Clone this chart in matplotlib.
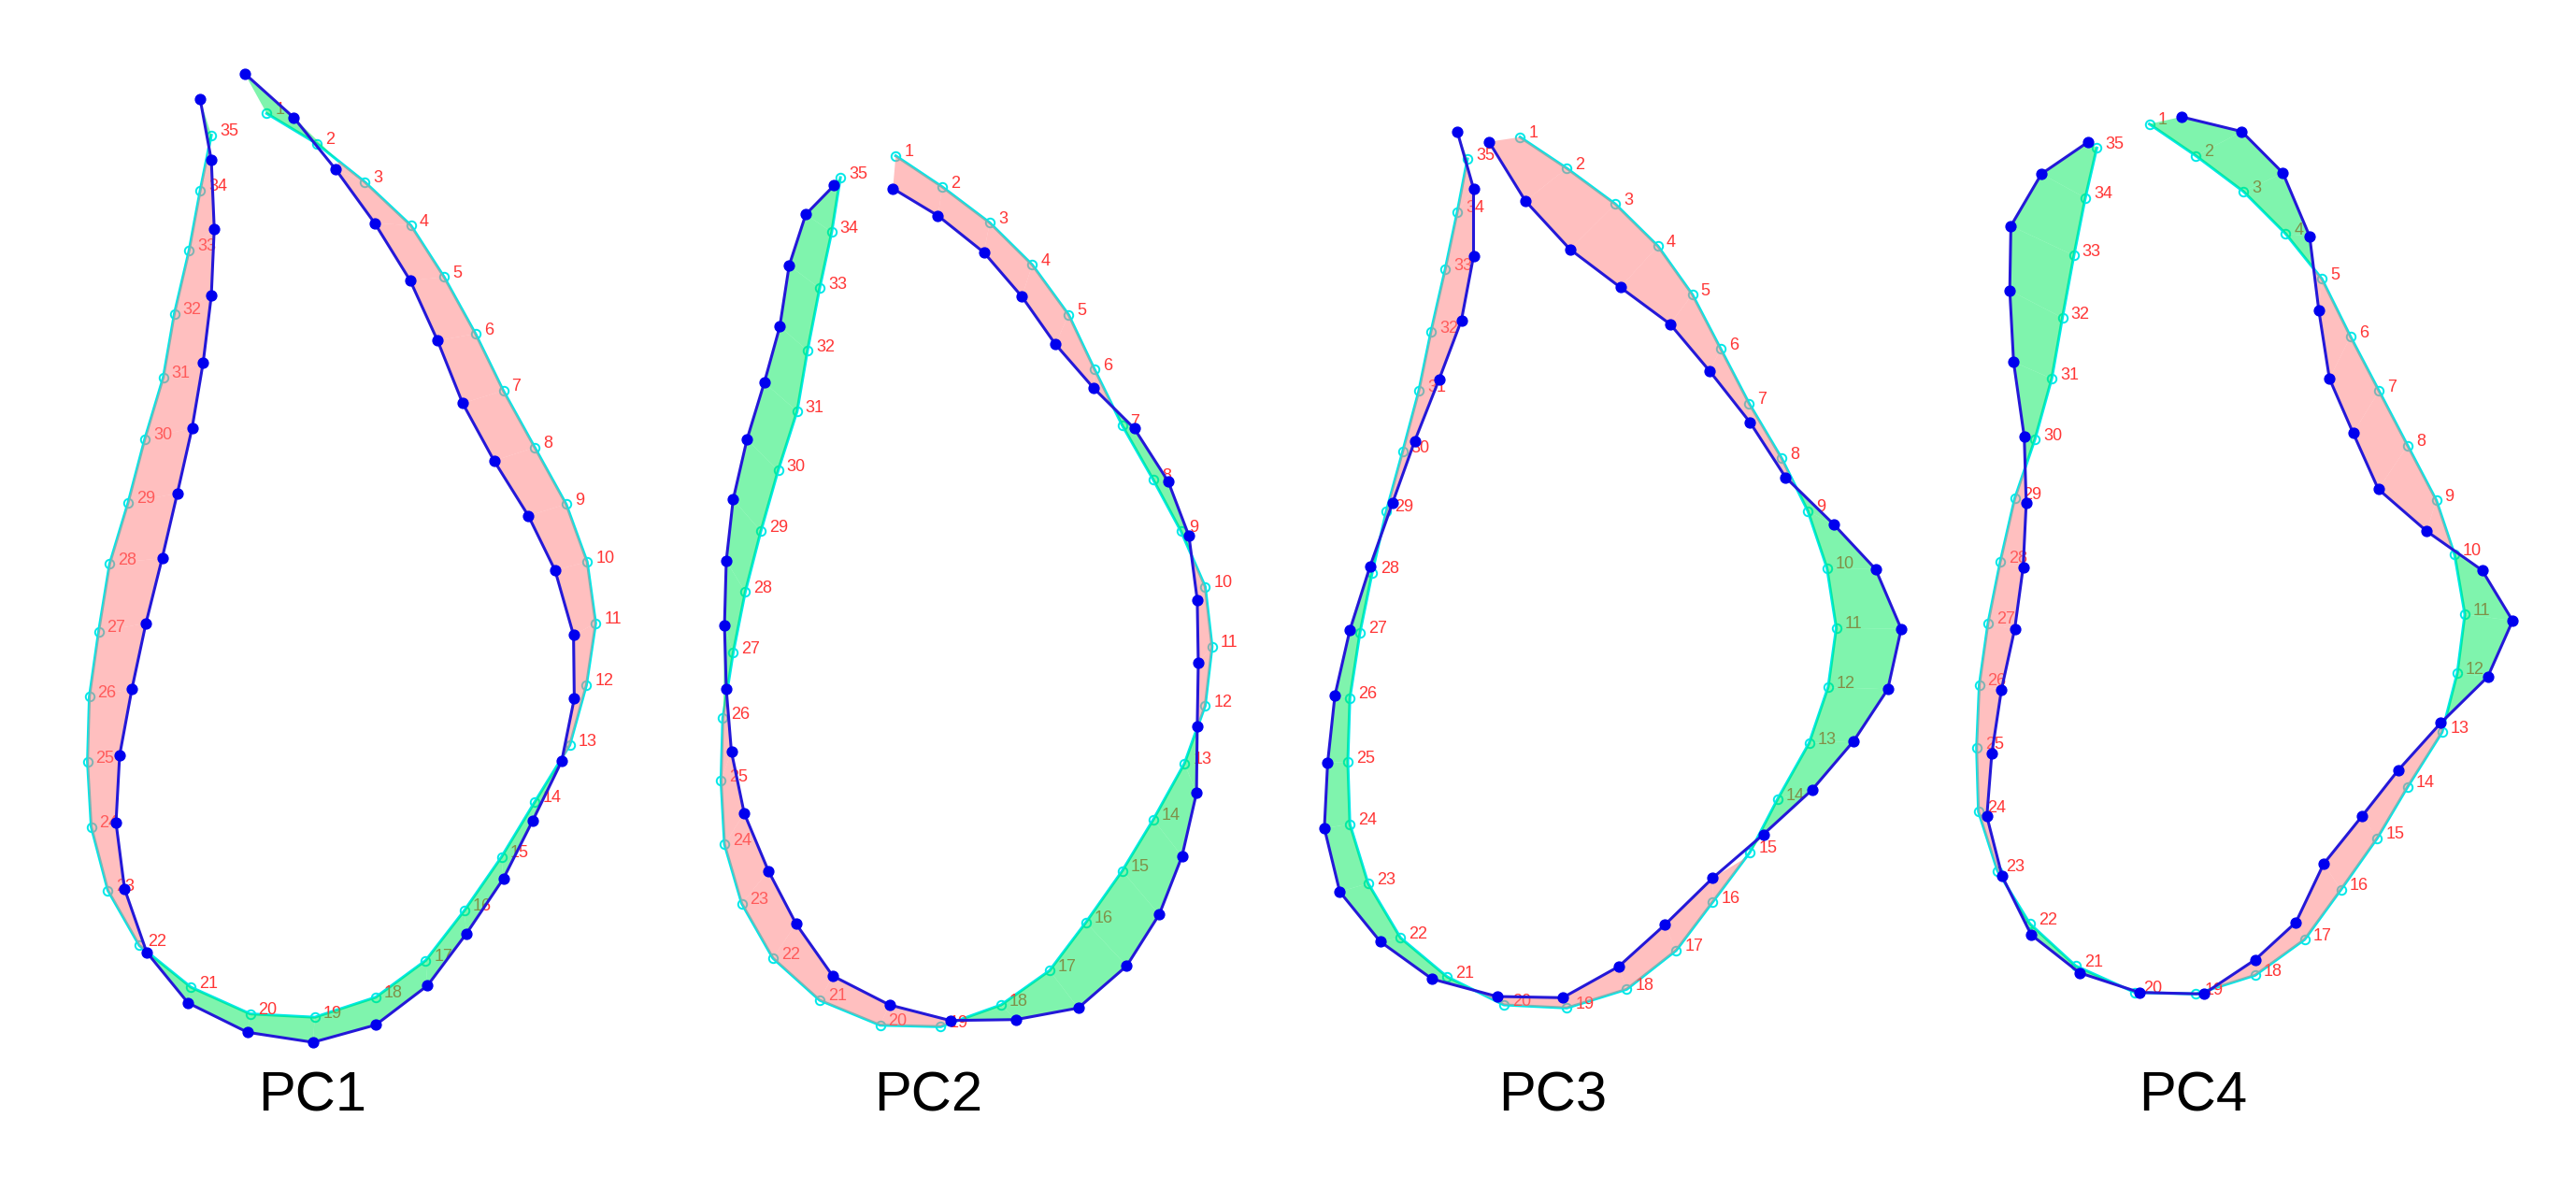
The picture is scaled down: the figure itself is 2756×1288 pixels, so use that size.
import numpy as np
import matplotlib
matplotlib.use("Agg")
import matplotlib.pyplot as plt
from matplotlib.patches import Polygon

# ---------------- data: landmark coordinates (image units, y downward) ----------------
titles = ["PC1", "PC2", "PC3", "PC4"]
title_x = [334, 993, 1661, 2346]
landmark_labels = [str(i) for i in range(1, 36)]

# PC1
pc1_mean_x = [285.4, 338.8, 390.2, 439.6, 475.2, 508.8, 538.5, 572.1, 605.7, 628.2, 637.3, 627.4,
              609.6, 572.1, 536.5, 496.9, 455.4, 402.0, 336.8, 267.6, 204.3, 149.0, 115.4, 97.6,
              93.6, 95.6, 105.5, 117.3, 137.1, 154.9, 174.7, 186.5, 202.3, 214.2, 226.1]
pc1_mean_y = [121.4, 153.6, 194.6, 241.1, 296.4, 357.1, 417.9, 478.6, 539.3, 601.0, 666.8, 732.9,
              797.1, 857.9, 916.8, 973.9, 1027.5, 1066.8, 1088.2, 1084.6, 1056.1, 1011.4, 952.5, 884.6,
              815.0, 745.4, 675.7, 603.0, 537.5, 469.6, 403.6, 335.7, 267.9, 203.6, 144.6]
pc1_shape_x = [261.7, 314.2, 359.3, 400.8, 438.8, 468.1, 495.0, 528.6, 565.3, 593.8, 613.6, 614.4,
               600.9, 570.1, 538.5, 498.9, 457.4, 402.0, 334.8, 264.8, 201.2, 156.9, 133.2, 124.1,
               128.0, 141.1, 156.1, 173.5, 189.7, 205.5, 217.4, 226.1, 229.2, 226.1, 214.2]
pc1_shape_y = [78.6, 125.7, 181.4, 238.6, 300.0, 364.3, 431.4, 492.9, 551.8, 610.0, 679.3, 747.1,
               814.3, 877.5, 940.0, 998.9, 1054.3, 1096.4, 1115.0, 1104.3, 1072.9, 1018.6, 950.7, 880.0,
               807.9, 737.1, 666.8, 597.1, 527.9, 457.9, 387.5, 316.1, 244.6, 171.4, 106.4]

# PC2
pc2_mean_x = [958.3, 1008.2, 1058.9, 1104.4, 1143.3, 1171.0, 1200.6, 1233.9, 1263.5, 1289.4, 1296.8, 1289.4,
              1267.2, 1233.9, 1200.6, 1161.8, 1122.9, 1071.1, 1006.4, 941.6, 876.9, 826.9, 793.6, 775.1,
              771.4, 773.3, 784.4, 797.3, 814.0, 832.5, 852.8, 863.9, 876.9, 889.8, 899.1]
pc2_mean_y = [166.7, 200.0, 238.3, 283.3, 336.7, 395.0, 455.0, 513.3, 568.3, 627.5, 691.7, 755.0,
              816.7, 876.7, 931.7, 986.7, 1038.3, 1075.0, 1098.3, 1096.7, 1070.0, 1025.0, 966.7, 903.3,
              835.0, 768.3, 698.3, 633.3, 568.3, 503.3, 440.0, 375.0, 308.3, 248.3, 190.0]
pc2_shape_x = [955.3, 1003.4, 1052.6, 1093.3, 1129.2, 1169.9, 1213.5, 1249.8, 1272.0, 1280.9, 1282.0, 1280.9,
               1280.1, 1264.6, 1240.2, 1205.4, 1153.6, 1087.0, 1016.7, 951.6, 890.9, 851.7, 822.1, 796.2,
               782.5, 777.0, 775.1, 777.0, 784.4, 799.2, 817.7, 834.3, 844.3, 862.1, 892.4]
pc2_shape_y = [201.7, 230.7, 270.0, 317.3, 368.3, 415.0, 458.3, 515.0, 573.3, 641.7, 709.3, 776.7,
               848.3, 916.0, 978.3, 1033.3, 1078.3, 1090.7, 1091.7, 1075.0, 1044.0, 988.3, 931.7, 870.0,
               804.0, 736.7, 669.3, 600.0, 534.3, 470.0, 409.3, 349.3, 284.0, 229.3, 198.3]

# PC3
pc3_mean_x = [1626.3, 1676.2, 1728.2, 1773.8, 1810.6, 1841.0, 1871.4, 1906.0, 1934.2, 1954.6, 1964.6, 1955.9,
              1935.5, 1901.7, 1872.2, 1832.3, 1793.3, 1740.4, 1676.2, 1609.0, 1548.3, 1498.4, 1463.7, 1444.2,
              1442.0, 1444.2, 1455.0, 1468.1, 1483.2, 1500.6, 1517.9, 1530.9, 1546.1, 1559.1, 1570.0]
pc3_mean_y = [146.7, 180.0, 218.3, 263.3, 315.0, 373.3, 431.7, 490.0, 546.7, 607.5, 671.7, 735.0,
              795.0, 855.0, 911.7, 965.0, 1016.7, 1058.3, 1078.3, 1075.0, 1045.0, 1003.3, 945.0, 881.7,
              815.0, 746.7, 676.7, 612.5, 546.7, 483.3, 418.3, 355.0, 288.3, 226.7, 170.0]
pc3_shape_x = [1593.0, 1632.0, 1679.7, 1733.5, 1786.8, 1828.9, 1872.2, 1910.4, 1961.6, 2006.7, 2034.0, 2019.7,
               1983.2, 1938.6, 1886.5, 1832.3, 1781.2, 1731.7, 1671.9, 1601.6, 1532.2, 1476.7, 1433.4, 1416.9,
               1420.4, 1428.2, 1444.2, 1465.9, 1489.7, 1513.6, 1539.6, 1563.5, 1576.5, 1576.5, 1559.1]
pc3_shape_y = [151.7, 215.0, 266.7, 307.3, 346.7, 396.7, 451.7, 510.7, 560.7, 609.0, 672.7, 737.3,
               792.7, 845.0, 892.7, 939.3, 989.3, 1034.0, 1067.3, 1066.0, 1047.3, 1007.3, 954.0, 886.0,
               816.0, 744.0, 674.0, 605.5, 538.3, 471.7, 406.0, 342.7, 274.0, 201.7, 140.7]

# PC4
pc4_mean_x = [2299.6, 2349.4, 2400.4, 2445.3, 2484.1, 2514.7, 2545.3, 2575.9, 2606.5, 2626.1, 2637.1, 2629.0,
              2612.7, 2575.9, 2543.3, 2504.5, 2465.7, 2412.7, 2349.4, 2284.1, 2220.8, 2171.8, 2137.1, 2116.7,
              2114.7, 2117.6, 2126.9, 2140.0, 2155.5, 2177.1, 2195.1, 2206.5, 2218.8, 2231.0, 2243.3]
pc4_mean_y = [132.7, 166.7, 205.0, 250.0, 298.3, 360.0, 418.3, 476.7, 535.0, 593.3, 657.3, 720.0,
              783.3, 841.7, 896.7, 951.7, 1005.0, 1043.3, 1063.3, 1061.7, 1033.3, 988.3, 931.7, 868.3,
              800.0, 732.7, 666.7, 601.0, 533.3, 470.0, 405.0, 340.0, 273.3, 211.7, 158.3]
pc4_shape_x = [2333.9, 2398.4, 2442.4, 2471.0, 2480.8, 2492.2, 2517.6, 2544.5, 2596.3, 2655.5, 2688.2, 2661.6,
               2611.4, 2565.7, 2526.9, 2486.1, 2456.3, 2412.7, 2357.6, 2289.0, 2224.9, 2173.1, 2142.0, 2125.7,
               2131.0, 2141.2, 2155.5, 2164.5, 2167.8, 2165.7, 2154.3, 2150.2, 2151.4, 2184.1, 2234.3]
pc4_shape_y = [125.0, 140.7, 185.0, 252.7, 331.7, 405.0, 463.3, 523.3, 568.3, 610.0, 664.0, 724.0,
               773.3, 824.0, 873.3, 924.0, 986.7, 1026.7, 1063.3, 1061.7, 1040.7, 1000.0, 937.3, 873.3,
               806.0, 738.3, 672.7, 607.0, 538.3, 467.3, 387.3, 310.7, 241.7, 186.0, 151.7]

panels = [
    (pc1_mean_x, pc1_mean_y, pc1_shape_x, pc1_shape_y),
    (pc2_mean_x, pc2_mean_y, pc2_shape_x, pc2_shape_y),
    (pc3_mean_x, pc3_mean_y, pc3_shape_x, pc3_shape_y),
    (pc4_mean_x, pc4_mean_y, pc4_shape_x, pc4_shape_y),
]

# ---------------- styling ----------------
W, H = 2756, 1288
DPI = 100
MEAN_COLOR = "#00e8e8"
SHAPE_LINE = "#2418d8"
SHAPE_DOT = "#0000ee"
LABEL_COLOR = "#ff3535"
OUT_COLOR = (0.0, 0.92, 0.36, 0.5)    # outward deformation -> green
IN_COLOR = (1.0, 0.5, 0.5, 0.5)       # inward deformation -> pink
FONT = ["Liberation Sans", "DejaVu Sans"]

fig = plt.figure(figsize=(W / DPI, H / DPI), dpi=DPI)
ax = fig.add_axes([0, 0, 1, 1])
ax.set_xlim(0, W)
ax.set_ylim(H, 0)
ax.axis("off")


def seg_intersection(p1, p2, q1, q2):
    d1 = p2 - p1
    d2 = q2 - q1
    den = d1[0] * d2[1] - d1[1] * d2[0]
    if abs(den) < 1e-9:
        return None
    r = q1 - p1
    t = (r[0] * d2[1] - r[1] * d2[0]) / den
    u = (r[0] * d1[1] - r[1] * d1[0]) / den
    if 0 <= t <= 1 and 0 <= u <= 1:
        return p1 + t * d1
    return None


for (mx, my, sx, sy), title, tx in zip(panels, titles, title_x):
    c = np.column_stack([mx, my]).astype(float)
    b = np.column_stack([sx, sy]).astype(float)
    n = len(c)
    # tangents & outward normals along the mean outline
    tan = np.empty_like(c)
    tan[0] = c[1] - c[0]
    tan[-1] = c[-1] - c[-2]
    tan[1:-1] = c[2:] - c[:-2]
    nrm = np.column_stack([tan[:, 1], -tan[:, 0]])
    nrm /= np.linalg.norm(nrm, axis=1)[:, None]
    s = np.sum((b - c) * nrm, axis=1)

    # mean outline with open circles
    ax.plot(c[:, 0], c[:, 1], color=MEAN_COLOR, lw=2.2, zorder=2)
    ax.plot(c[:, 0], c[:, 1], ls="none", marker="o", ms=6.8, mfc="none",
            mec=MEAN_COLOR, mew=1.4, zorder=2)
    for (x, y), lab in zip(c, landmark_labels):
        ax.text(x + 9, y - 4, lab, color=LABEL_COLOR, fontsize=13, family=FONT,
                ha="left", va="center", zorder=3)

    # deformation fill
    for i in range(n - 1):
        col_i = OUT_COLOR if s[i] > 0 else IN_COLOR
        col_j = OUT_COLOR if s[i + 1] > 0 else IN_COLOR
        if s[i] * s[i + 1] >= 0:
            col = OUT_COLOR if (s[i] + s[i + 1]) > 0 else IN_COLOR
            ax.add_patch(Polygon([c[i], c[i + 1], b[i + 1], b[i]], closed=True,
                                 facecolor=col, edgecolor="none", zorder=4))
        else:
            p = seg_intersection(c[i], c[i + 1], b[i], b[i + 1])
            if p is None:
                t = s[i] / (s[i] - s[i + 1])
                p = c[i] + t * (c[i + 1] - c[i])
            ax.add_patch(Polygon([c[i], p, b[i]], closed=True,
                                 facecolor=col_i, edgecolor="none", zorder=4))
            ax.add_patch(Polygon([p, c[i + 1], b[i + 1]], closed=True,
                                 facecolor=col_j, edgecolor="none", zorder=4))

    # deformed outline with filled dots
    ax.plot(b[:, 0], b[:, 1], color=SHAPE_LINE, lw=2.2, zorder=5)
    ax.plot(b[:, 0], b[:, 1], ls="none", marker="o", ms=7.8, color=SHAPE_DOT,
            mec=SHAPE_DOT, zorder=6)

    ax.text(tx, 1173, title, fontsize=43, family=FONT, color="black",
            ha="center", va="center", zorder=7)

fig.savefig("out.png", dpi=DPI)
